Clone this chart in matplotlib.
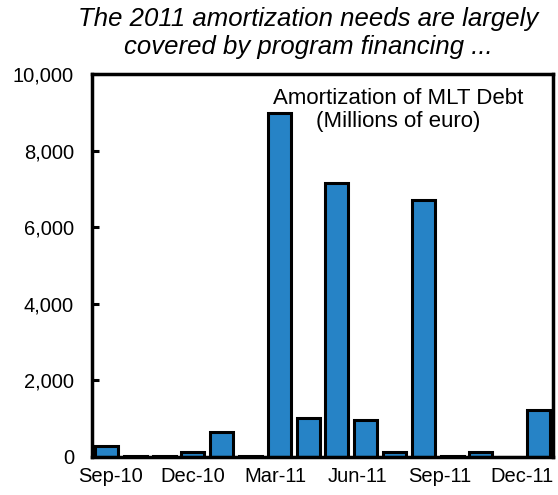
import matplotlib.pyplot as plt
from matplotlib.ticker import FuncFormatter

plt.rcParams['font.family'] = ['Liberation Sans', 'DejaVu Sans']

# 2010-09 .. 2011-12, millions of euro
months = ['Sep-10', 'Oct-10', 'Nov-10', 'Dec-10', 'Jan-11', 'Feb-11', 'Mar-11', 'Apr-11',
          'May-11', 'Jun-11', 'Jul-11', 'Aug-11', 'Sep-11', 'Oct-11', 'Nov-11', 'Dec-11']
amortization = [280, 20, 20, 130, 650, 20, 9000, 1020, 7150, 960, 120, 6720, 20, 120, 0, 1230]
shown_labels = ['Sep-10', 'Dec-10', 'Mar-11', 'Jun-11', 'Sep-11', 'Dec-11']

fig = plt.figure(figsize=(5.58, 4.95), dpi=100)
ax = fig.add_axes([0.165, 0.077, 0.826, 0.773])

x = list(range(len(months)))
ax.bar(x, amortization, width=0.8, color='#2683C6', edgecolor='black', linewidth=2.2)

ax.set_xlim(-0.5, len(months) - 0.5)
ax.set_ylim(0, 10000)
ax.set_yticks(range(0, 10001, 2000))
ax.yaxis.set_major_formatter(FuncFormatter(lambda v, p: f'{int(v):,}'))

# the original's category labels sit a bit tighter than the bars
ticks = [0.125 + 0.954 * months.index(m) for m in shown_labels]
ax.set_xticks(ticks)
ax.set_xticklabels(shown_labels)

ax.tick_params(axis='y', direction='in', length=5, width=2.2, labelsize=14.5, pad=13)
ax.tick_params(axis='x', length=0, labelsize=14.5, pad=7)
for s in ax.spines.values():
    s.set_linewidth(2.5)

ax.text(0.665, 0.963, 'Amortization of MLT Debt\n(Millions of euro)', transform=ax.transAxes,
        ha='center', va='top', fontsize=16, linespacing=1.12)

fig.text(0.552, 0.986, 'The 2011 amortization needs are largely\ncovered by program financing ...',
         ha='center', va='top', fontsize=18.5, style='italic', linespacing=1.22)

fig.savefig('out.png', dpi=100)
